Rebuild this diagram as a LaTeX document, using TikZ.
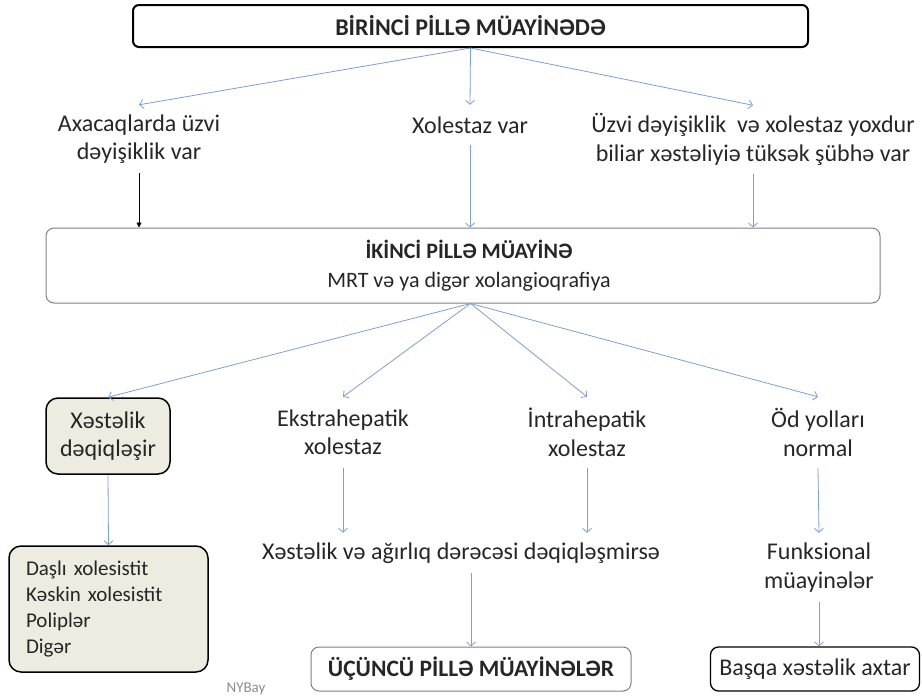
\documentclass[tikz,border=0pt]{standalone}
\usepackage{fontspec}
\setmainfont{Carlito}
\usetikzlibrary{arrows.meta,positioning}
\definecolor{arrowblue}{RGB}{122,160,212}
\definecolor{boxbeige}{RGB}{238,236,225}
\definecolor{textgray}{RGB}{38,38,38}
\begin{document}
\begin{tikzpicture}[
    x=1pt, y=-1pt,
    every node/.style={text=textgray, inner sep=0pt},
    txt/.style={align=center, font=\fontsize{24}{28.5}\selectfont},
    head/.style={draw=black, rounded corners=6pt, line width=2pt, font=\bfseries\fontsize{24}{28}\selectfont},
    greybox/.style={draw=black!50, rounded corners=8pt, line width=1pt, align=center},
    beige/.style={draw=black, fill=boxbeige, rounded corners=12pt, line width=1.5pt},
    flow/.style={-{Straight Barb[length=4pt,width=9pt]}, draw=arrowblue, line width=0.8pt},
    blackflow/.style={-{Triangle[length=5pt,width=5pt]}, draw=black, line width=0.6pt}
]
\useasboundingbox (0,0) rectangle (922,699);
% first stage
\node[head, minimum width=675pt, minimum height=42pt] (first) at (470.5,26) {BİRİNCİ PİLLƏ MÜAYİNƏDƏ};
\node[txt, minimum height=68pt] (organic) at (139,139) {Axacaqlarda üzvi\\dəyişiklik var};
\node[txt, minimum height=40pt] (cholestasis) at (470,125) {Xolestaz var};
\node[txt, minimum height=68pt] (suspect) at (753,139.5) {Üzvi dəyişiklik~ və xolestaz yoxdur\\biliar xəstəliyiə tüksək şübhə var};
\draw[flow] (first.south) -- (organic.north);
\draw[flow] (first.south) -- (cholestasis.north);
\draw[flow] (first.south) -- (suspect.north);
% second stage
\node[greybox, font=\fontsize{22}{29}\selectfont, minimum width=834pt, minimum height=75pt] (second) at (463,265.5)
    {\hspace*{12pt}\textbf{İKİNCİ PİLLƏ MÜAYİNƏ}\\
     \hspace*{12pt}MRT və ya digər xolangioqrafiya};
\draw[blackflow] (organic.south) -- (organic.south |- second.north);
\draw[flow] (cholestasis.south) -- (cholestasis.south |- second.north);
\draw[flow] (suspect.south) -- (suspect.south |- second.north);
% results of second stage
\node[beige, txt, minimum width=124pt, minimum height=76pt] (clear) at (108,436) {Xəstəlik\\dəqiqləşir};
\node[txt, minimum height=71pt] (extra) at (343,432.5) {Ekstrahepatik\\xolestaz};
\node[txt, minimum height=71pt] (intra) at (587,432.5) {İntrahepatik\\xolestaz};
\node[txt, minimum height=71pt] (normal) at (818,432.5) {Öd yolları\\normal};
\coordinate (hub) at (first.south |- second.south);
\draw[flow] (hub) -- (clear.north);
\draw[flow] (hub) -- (extra.north);
\draw[flow] (hub) -- (intra.north);
\draw[flow] (hub) -- (normal.north);
% third row
\node[beige, align=left, font=\fontsize{21}{26}\selectfont, minimum width=199pt, minimum height=126pt, text width=165pt] (list) at (108.5,609)
    {Daşlı xolesistit\\Kəskin xolesistit\\Poliplər\\Digər};
\node[txt, minimum height=40pt] (unclear) at (461,553) {Xəstəlik və ağırlıq dərəcəsi dəqiqləşmirsə};
\node[txt, minimum height=69pt] (functional) at (819,567.5) {Funksional\\müayinələr};
\draw[flow] (clear.south) -- (list.north);
\draw[flow] (extra.south) -- (extra.south |- unclear.north);
\draw[flow] (intra.south) -- (intra.south |- unclear.north);
\draw[flow] (normal.south) -- (functional.north);
% final boxes
\node[greybox, font=\bfseries\fontsize{23.5}{26}\selectfont, minimum width=320pt, minimum height=44pt] (third) at (471,669) {ÜÇÜNCÜ PİLLƏ MÜAYİNƏLƏR};
\node[draw=black, rounded corners=8pt, line width=1.3pt, font=\fontsize{24}{26}\selectfont, minimum width=209pt, minimum height=44pt] (other) at (815,669) {Başqa xəstəlik axtar};
\draw[flow] (third.north |- unclear.south) -- (third.north);
\draw[flow] (functional.south) -- (functional.south |- other.north);
\node[text=black!45, font=\fontsize{15}{17}\selectfont] (sign) at (246,689) {NYBay};
\end{tikzpicture}
\end{document}
